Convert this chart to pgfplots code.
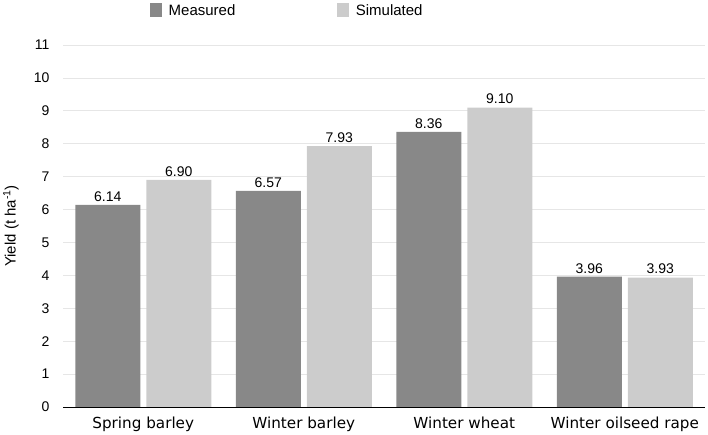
\documentclass[border=0pt]{standalone}
\usepackage{pgfplots}
\pgfplotsset{compat=1.18}
\usepackage{fontspec}
\setmainfont{Liberation Sans}
\newfontfamily\dejavu{DejaVu Sans}
\definecolor{meas}{HTML}{888888}
\definecolor{sim}{HTML}{CCCCCC}
\definecolor{gridc}{HTML}{E6E6E6}
\begin{document}
\begin{tikzpicture}[x=1pt,y=1pt]
\path[use as bounding box] (0,0) rectangle (708,434);
\begin{axis}[
  at={(63pt,27pt)}, anchor=south west,
  scale only axis, width=642pt, height=362pt,
  xmin=-0.5, xmax=3.5, ymin=0, ymax=11,
  xtick={0,1,2,3},
  xticklabels={Spring barley, Winter barley, Winter wheat, Winter oilseed rape},
  xticklabel style={font=\dejavu\fontsize{15.2}{17}\selectfont, yshift=-6pt},
  ytick={0,1,...,11},
  yticklabel style={font=\fontsize{14}{16}\selectfont, xshift=-10pt},
  /pgf/number format/assume math mode=true,
  major tick length=0pt,
  axis line style={draw=none},
  ymajorgrids, xmajorgrids=false, grid style={draw=gridc, line width=0.8pt},
  ybar, bar width=65pt,
  ylabel={Yield (t ha\textsuperscript{-1})},
  every axis y label/.style={at={(-52pt,0.5)}, rotate=90, anchor=center, font=\fontsize{15}{17}\selectfont},
  nodes near coords,
  nodes near coords style={font=\fontsize{14}{16}\selectfont, text=black, /pgf/number format/.cd, fixed, fixed zerofill, precision=2, assume math mode=true},
  legend style={draw=none, at={(0.1355,1.0)}, anchor=north west, yshift=43pt, inner sep=0pt, font=\fontsize{15}{17}\selectfont, legend columns=2, /tikz/every even column/.append style={column sep=100pt}},
  legend image code/.code={\fill[#1] (0pt,-7pt) rectangle (12pt,7pt); \path (16.5pt,0pt);},
  clip=false,
]
\addplot[fill=meas, draw=none, bar shift=-35.5pt] coordinates {(0,6.14) (1,6.57) (2,8.36) (3,3.96)};
\addplot[fill=sim, draw=none, bar shift=35.5pt] coordinates {(0,6.90) (1,7.93) (2,9.10) (3,3.93)};
\legend{Measured, Simulated}
\draw[black, line width=1pt] (axis cs:-0.5,0) -- (axis cs:3.5,0);
\end{axis}
\end{tikzpicture}
\end{document}
